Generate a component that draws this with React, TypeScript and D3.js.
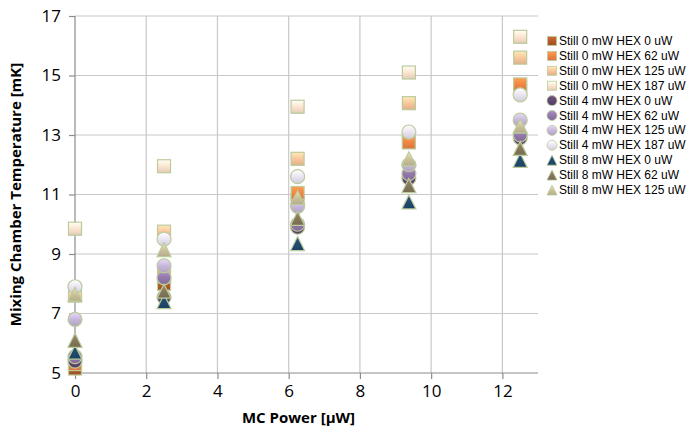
import React, { useEffect, useRef } from 'react';
import * as d3 from 'd3';

const xPowers = [0, 2.5, 6.25, 9.375, 12.5];

const seriesNames = [
  'Still 0 mW HEX 0 uW',
  'Still 0 mW HEX 62 uW',
  'Still 0 mW HEX 125 uW',
  'Still 0 mW HEX 187 uW',
  'Still 4 mW HEX 0 uW',
  'Still 4 mW HEX 62 uW',
  'Still 4 mW HEX 125 uW',
  'Still 4 mW HEX 187 uW',
  'Still 8 mW HEX 0 uW',
  'Still 8 mW HEX 62 uW',
  'Still 8 mW HEX 125 uW',
];

const seriesShapes = ['square', 'square', 'square', 'square', 'circle', 'circle', 'circle', 'circle', 'triangle', 'triangle', 'triangle'];
const seriesColors = ['#b0592a', '#ee8442', '#f7c49a', '#fbe2cd', '#5e4770', '#9277aa', '#c3b5d6', '#e8e2f0', '#1f4a6e', '#83775a', '#c9bf9a'];

const s0 = [5.15, 8.0, 10.8, 12.8, 14.6];
const s1 = [5.3, 8.25, 11.05, 12.75, 14.7];
const s2 = [7.6, 9.75, 12.2, 14.07, 15.6];
const s3 = [9.85, 11.95, 13.95, 15.1, 16.3];
const s4 = [5.4, 7.55, 9.9, 11.55, 12.9];
const s5 = [5.55, 8.2, 10.0, 11.7, 13.0];
const s6 = [6.8, 8.6, 10.6, 12.0, 13.5];
const s7 = [7.9, 9.5, 11.6, 13.1, 14.35];
const s8 = [5.7, 7.4, 9.35, 10.75, 12.15];
const s9 = [6.1, 7.75, 10.2, 11.3, 12.55];
const s10 = [7.65, 9.15, 10.9, 12.2, 13.3];
const allSeries = [s0, s1, s2, s3, s4, s5, s6, s7, s8, s9, s10];

const xTicks = [0, 2, 4, 6, 8, 10, 12];
const yTicks = [5, 7, 9, 11, 13, 15, 17];

const App: React.FC = () => {
  const svgRef = useRef<SVGSVGElement | null>(null);

  useEffect(() => {
    if (!svgRef.current) return;
    const svg = d3.select(svgRef.current);
    svg.selectAll('*').remove();

    const margin = { top: 16, right: 149, bottom: 64, left: 75 };
    const width = 687;
    const height = 437;

    const x = d3.scaleLinear().domain([0, 13]).range([margin.left, width - margin.right]);
    const y = d3.scaleLinear().domain([5, 17]).range([height - margin.bottom, margin.top]);

    const defs = svg.append('defs');
    seriesColors.forEach((c, i) => {
      const g = defs.append('linearGradient').attr('id', `grad${i}`)
        .attr('x1', 0).attr('y1', 0).attr('x2', 0).attr('y2', 1);
      g.append('stop').attr('offset', '0%').attr('stop-color', d3.color(c)!.brighter(0.5).formatHex());
      g.append('stop').attr('offset', '55%').attr('stop-color', c);
      g.append('stop').attr('offset', '100%').attr('stop-color', d3.color(c)!.darker(0.3).formatHex());
    });

    // grid
    svg.append('g').selectAll('line.h')
      .data(yTicks.slice(1))
      .join('line')
      .attr('x1', x(0)).attr('x2', x(13))
      .attr('y1', d => y(d)).attr('y2', d => y(d))
      .attr('stroke', '#c8c8c8').attr('stroke-width', 1.2);
    svg.append('g').selectAll('line.v')
      .data(xTicks.slice(1))
      .join('line')
      .attr('x1', d => x(d)).attr('x2', d => x(d))
      .attr('y1', y(17)).attr('y2', y(5))
      .attr('stroke', '#c8c8c8').attr('stroke-width', 1.2);

    // axes
    const yAxis = svg.append('g')
      .attr('transform', `translate(${margin.left},0)`)
      .call(d3.axisLeft(y).tickValues(yTicks).tickSize(6).tickPadding(8).tickFormat(d3.format('d')));
    const xAxis = svg.append('g')
      .attr('transform', `translate(0,${height - margin.bottom})`)
      .call(d3.axisBottom(x).tickValues(xTicks).tickSize(6).tickPadding(6).tickFormat(d3.format('d')));
    [yAxis, xAxis].forEach(a => {
      a.select('.domain').attr('stroke', '#8c8c8c').attr('stroke-width', 1.2);
      a.selectAll('.tick line').attr('stroke', '#8c8c8c').attr('stroke-width', 1.2);
      a.selectAll('.tick text').attr('fill', '#000').style('font', '17px "Open Sans", sans-serif');
    });
    xAxis.select('.domain').attr('d', `M${x(0)},0H${x(13)}`);
    yAxis.select('.domain').attr('d', `M0,${y(5)}V${y(17)}`);

    const drawMarker = (g: d3.Selection<SVGGElement, unknown, null, undefined>, shape: string, i: number, cx: number, cy: number, s: number, sw: number) => {
      const fill = `url(#grad${i})`;
      const stroke = '#bccb9c';
      if (shape === 'square') {
        g.append('rect').attr('x', cx - s / 2).attr('y', cy - s / 2).attr('width', s).attr('height', s)
          .attr('fill', fill).attr('stroke', stroke).attr('stroke-width', sw);
      } else if (shape === 'circle') {
        g.append('circle').attr('cx', cx).attr('cy', cy).attr('r', s / 2 + 0.5)
          .attr('fill', fill).attr('stroke', stroke).attr('stroke-width', sw);
      } else {
        const h = s + 1;
        g.append('path').attr('d', `M${cx},${cy - h / 2}L${cx + h / 2},${cy + h / 2}L${cx - h / 2},${cy + h / 2}Z`)
          .attr('fill', fill).attr('stroke', stroke).attr('stroke-width', sw);
      }
    };

    const pts = svg.append('g');
    allSeries.forEach((vals, i) => {
      vals.forEach((v, j) => drawMarker(pts, seriesShapes[i], i, x(xPowers[j]), y(v), 13, 1.2));
    });

    // legend
    const legend = svg.append('g');
    seriesNames.forEach((name, i) => {
      const ly = 41 + i * 14.9;
      drawMarker(legend, seriesShapes[i], i, 552, ly, 9, 0.8);
      legend.append('text').attr('x', 559).attr('y', ly + 4)
        .style('font', '12px "Liberation Sans", sans-serif').attr('fill', '#000').text(name);
    });

    svg.append('text').attr('x', (x(0) + x(13)) / 2 - 8).attr('y', 423)
      .attr('text-anchor', 'middle').style('font', 'bold 15px "Open Sans", sans-serif')
      .text('MC Power [μW]');
    svg.append('text').attr('transform', `translate(21,${(y(5) + y(17)) / 2}) rotate(-90)`)
      .attr('text-anchor', 'middle').style('font', 'bold 15px "Open Sans", sans-serif')
      .text('Mixing Chamber Temperature [mK]');
  }, []);

  return (
    <svg ref={svgRef} width={687} height={437} style={{ position: 'absolute', left: 0, top: 0, background: '#fff' }}></svg>
  );
};

export default App;
